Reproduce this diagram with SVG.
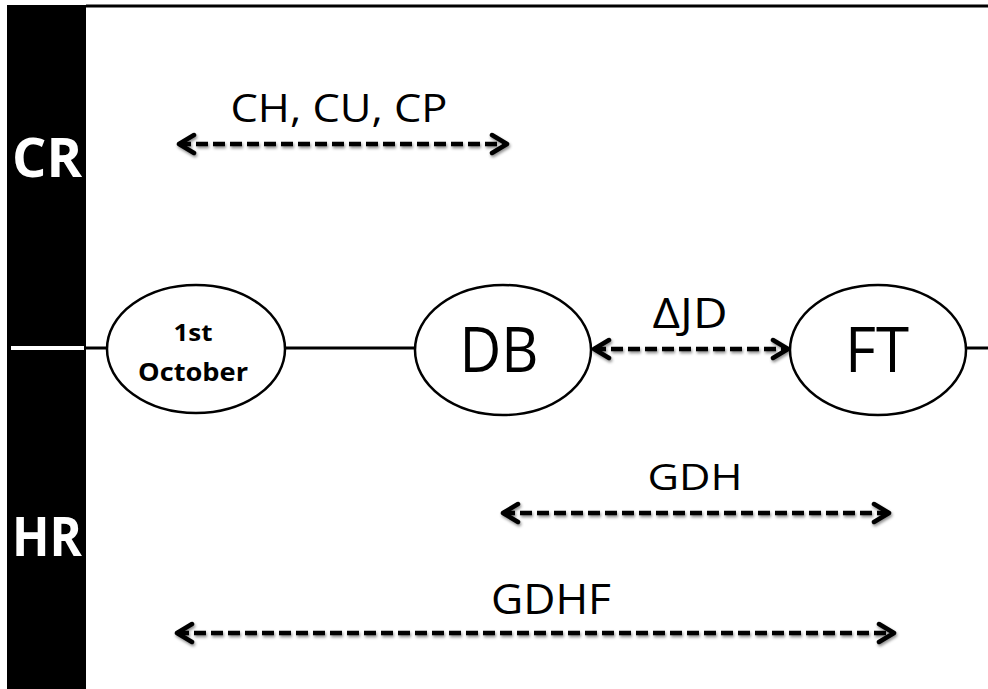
<svg xmlns="http://www.w3.org/2000/svg" width="988" height="689" viewBox="0 0 988 689">
  <style>
    .band { font-family: "Open Sans", "Noto Sans", "DejaVu Sans", sans-serif; font-weight: bold; fill: #fff; font-size: 54px; }
    .node { fill: #fff; stroke: #000; stroke-width: 2.5; }
    .lbl { font-family: "Open Sans", "Noto Sans", "DejaVu Sans", sans-serif; fill: #000; text-anchor: middle; }
    .span { fill: none; stroke: #000; stroke-width: 4.5; stroke-dasharray: 12 5; filter: url(#shadow); }
    .rail { stroke: #000; stroke-width: 3; }
  </style>
  <defs>
    <!-- user-space region: the dashed spans are horizontal lines with a zero-height box -->
    <filter id="shadow" filterUnits="userSpaceOnUse" x="0" y="0" width="988" height="689">
      <feDropShadow dx="1" dy="2" stdDeviation="1.5" flood-color="#000" flood-opacity="0.45"/>
    </filter>
    <marker id="head" viewBox="0 0 24 24" refX="20" refY="12" markerWidth="24" markerHeight="24" markerUnits="userSpaceOnUse" orient="auto-start-reverse">
      <path d="M5,3 L20,12 L5,21" fill="none" stroke="#000" stroke-width="4.5" stroke-linecap="round" stroke-linejoin="round"/>
    </marker>
  </defs>

  <rect width="988" height="689" fill="#fff"/>

  <!-- left band with region labels -->
  <g id="band">
    <rect x="7" y="5" width="79" height="684" fill="#000"/>
    <line x1="11" y1="348" x2="84" y2="348" stroke="#fff" stroke-width="4"/>
    <text class="band" x="12" y="177" textLength="70" lengthAdjust="spacingAndGlyphs">CR</text>
    <text class="band" x="12" y="556" textLength="70" lengthAdjust="spacingAndGlyphs">HR</text>
  </g>

  <!-- top border, timeline and dashed spans -->
  <g id="connectors">
    <line class="rail" x1="86" y1="6" x2="988" y2="6" stroke-width="2"/>
    <line class="rail" x1="86" y1="348" x2="108" y2="348"/>
    <line class="rail" x1="285" y1="348" x2="415" y2="348"/>
    <line class="rail" x1="967" y1="348" x2="988" y2="348"/>
    <line class="span" x1="179" y1="144" x2="507" y2="144" marker-start="url(#head)" marker-end="url(#head)"/>
    <line class="span" x1="594" y1="349" x2="788" y2="349" marker-start="url(#head)" marker-end="url(#head)"/>
    <line class="span" x1="503" y1="513" x2="889" y2="513" marker-start="url(#head)" marker-end="url(#head)"/>
    <line class="span" x1="177" y1="633" x2="894" y2="633" marker-start="url(#head)" marker-end="url(#head)"/>
  </g>

  <g id="oct1">
    <ellipse class="node" cx="196" cy="349" rx="89" ry="64"/>
    <text class="lbl" x="193" y="341" font-size="24" font-weight="bold" textLength="39" lengthAdjust="spacingAndGlyphs">1st</text>
    <text class="lbl" x="193" y="381" font-size="25" font-weight="bold" textLength="110" lengthAdjust="spacingAndGlyphs">October</text>
  </g>

  <g id="db">
    <ellipse class="node" cx="503" cy="350" rx="88" ry="65"/>
    <text class="lbl" x="499" y="372" font-size="62" textLength="79" lengthAdjust="spacingAndGlyphs">DB</text>
  </g>

  <g id="ft">
    <ellipse class="node" cx="878" cy="350" rx="88" ry="65"/>
    <text class="lbl" x="877" y="372" font-size="62" textLength="64" lengthAdjust="spacingAndGlyphs">FT</text>
  </g>

  <!-- span labels -->
  <g id="labels">
    <text class="lbl" x="339" y="122" font-size="38" textLength="217" lengthAdjust="spacingAndGlyphs">CH, CU, CP</text>
    <text class="lbl" x="690" y="328" font-size="42" textLength="75" lengthAdjust="spacingAndGlyphs">ΔJD</text>
    <text class="lbl" x="695" y="490" font-size="36" textLength="95" lengthAdjust="spacingAndGlyphs">GDH</text>
    <text class="lbl" x="551" y="614" font-size="42" textLength="120" lengthAdjust="spacingAndGlyphs">GDHF</text>
  </g>
</svg>
